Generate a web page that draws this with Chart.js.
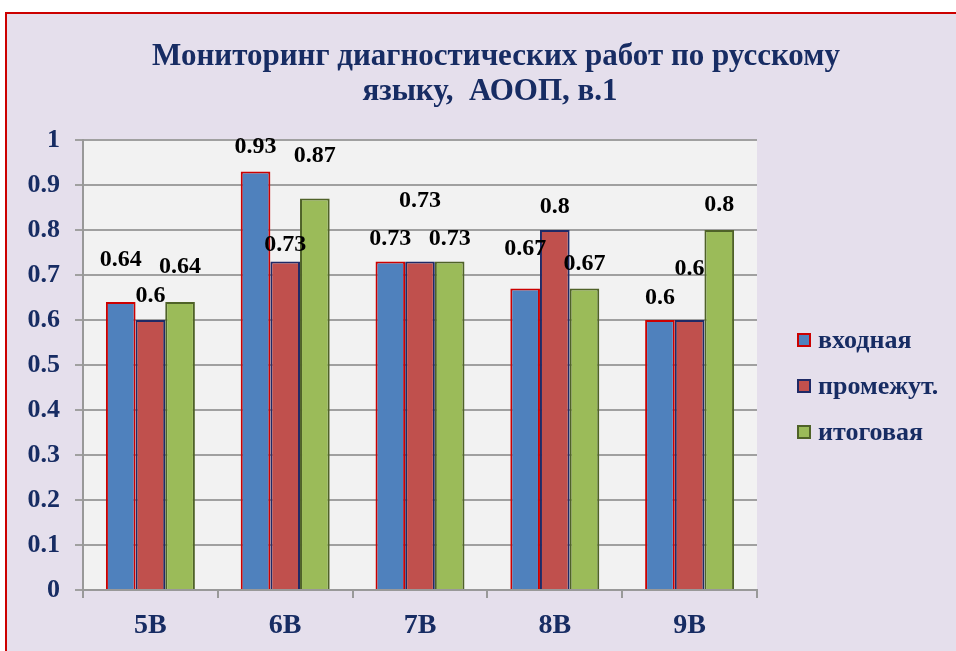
<!DOCTYPE html>
<html>
<head>
<meta charset="utf-8">
<script src="https://cdn.jsdelivr.net/npm/chart.js@4"></script>
<style>
  html, body { margin: 0; padding: 0; background: #fff; }
  #wrap { width: 956px; height: 651px; }
</style>
</head>
<body>
<div id="wrap"><canvas id="barChart" width="956" height="651"></canvas></div>
<script>
// данные диаграммы
const classes = ['5В', '6В', '7В', '8В', '9В'];
const seriesNames = ['входная', 'промежут.', 'итоговая'];
const vhodnaya = [0.64, 0.93, 0.73, 0.67, 0.6];
const promezhut = [0.6, 0.73, 0.73, 0.8, 0.6];
const itogovaya = [0.64, 0.87, 0.73, 0.67, 0.8];
const yTickLabels = ['0', '0.1', '0.2', '0.3', '0.4', '0.5', '0.6', '0.7', '0.8', '0.9', '1'];
const titleLines = ['Мониторинг диагностических работ по русскому', 'языку,  АООП, в.1'];

// сдвиг подписей над столбцами (px), как в исходной картинке
const labelLift = [
    [42, 25, 23, 40, 22],
    [24, 17, 61, 23, 51],
    [35, 43, 23, 25, 25]
];

const navy = '#172c63';
const serif = "'Liberation Serif', 'Times New Roman', serif";

const backgroundPlugin = {
    id: 'bg',
    beforeDraw(chart) {
        const ctx = chart.ctx;
        const a = chart.chartArea;
        ctx.save();
        ctx.fillStyle = '#ffffff';
        ctx.fillRect(0, 0, chart.width, chart.height);
        ctx.fillStyle = '#e5dfec';
        ctx.fillRect(5, 12, chart.width - 5, chart.height - 12);
        ctx.strokeStyle = '#cc0000';
        ctx.lineWidth = 2;
        ctx.beginPath();
        ctx.moveTo(6, chart.height);
        ctx.lineTo(6, 13);
        ctx.lineTo(chart.width, 13);
        ctx.stroke();
        ctx.fillStyle = '#f2f2f2';
        ctx.fillRect(a.left, a.top, a.right - a.left, a.bottom - a.top);
        // заголовок по центру всей области
        ctx.fillStyle = navy;
        ctx.font = 'bold 31px ' + serif;
        ctx.textAlign = 'center';
        ctx.textBaseline = 'alphabetic';
        ctx.fillText(titleLines[0], 496, 65);
        ctx.fillText(titleLines[1], 490, 100);
        ctx.restore();
    }
};

const valueLabels = {
    id: 'valueLabels',
    afterDatasetsDraw(chart) {
        const ctx = chart.ctx;
        ctx.save();
        ctx.font = 'bold 24px ' + serif;
        ctx.fillStyle = '#000';
        ctx.textAlign = 'center';
        ctx.textBaseline = 'middle';
        chart.data.datasets.forEach((ds, i) => {
            chart.getDatasetMeta(i).data.forEach((bar, j) => {
                ctx.fillText(String(ds.data[j]), bar.x, bar.y - labelLift[i][j]);
            });
        });
        ctx.restore();
    }
};

const sideLegend = {
    id: 'sideLegend',
    afterDraw(chart) {
        const ctx = chart.ctx;
        const rows = [340, 386, 432];
        ctx.save();
        ctx.font = 'bold 26px ' + serif;
        ctx.textBaseline = 'middle';
        chart.data.datasets.forEach((ds, i) => {
            const y = rows[i];
            ctx.fillStyle = ds.backgroundColor;
            ctx.fillRect(797, y - 7, 14, 14);
            ctx.strokeStyle = ds.borderColor;
            ctx.lineWidth = 2;
            ctx.strokeRect(798, y - 6, 12, 12);
            ctx.fillStyle = navy;
            ctx.fillText(ds.label, 818, y + 1);
        });
        ctx.restore();
    }
};

new Chart(document.getElementById('barChart'), {
    type: 'bar',
    data: {
        labels: classes,
        datasets: [
            { label: seriesNames[0], data: vhodnaya, backgroundColor: '#4f81bd', borderColor: '#cc0000', borderWidth: 2 },
            { label: seriesNames[1], data: promezhut, backgroundColor: '#c0504d', borderColor: '#1f2a66', borderWidth: 2 },
            { label: seriesNames[2], data: itogovaya, backgroundColor: '#9bbb59', borderColor: '#4f6228', borderWidth: 2 }
        ]
    },
    options: {
        responsive: false,
        animation: false,
        categoryPercentage: 0.66,
        barPercentage: 1,
        layout: { padding: { top: 140, right: 199, bottom: 0, left: 0 } },
        plugins: {
            legend: { display: false },
            tooltip: { enabled: false },
            title: { display: false }
        },
        scales: {
            x: {
                afterFit: (s) => { s.height = 61; },
                grid: { drawOnChartArea: false, color: '#999', lineWidth: 2, tickLength: 8 },
                border: { color: '#999', width: 2 },
                ticks: { color: navy, font: { family: serif, size: 28, weight: 'bold' }, padding: 11 }
            },
            y: {
                min: 0,
                max: 1,
                afterFit: (s) => { s.width = 83; },
                grid: { color: '#a0a0a0', lineWidth: 2, tickLength: 8 },
                border: { color: '#999', width: 2 },
                ticks: {
                    stepSize: 0.1,
                    color: navy,
                    padding: 15,
                    font: { family: serif, size: 26, weight: 'bold' },
                    callback: (v, i) => yTickLabels[i]
                }
            }
        }
    },
    plugins: [backgroundPlugin, valueLabels, sideLegend]
});
</script>
</body>
</html>
